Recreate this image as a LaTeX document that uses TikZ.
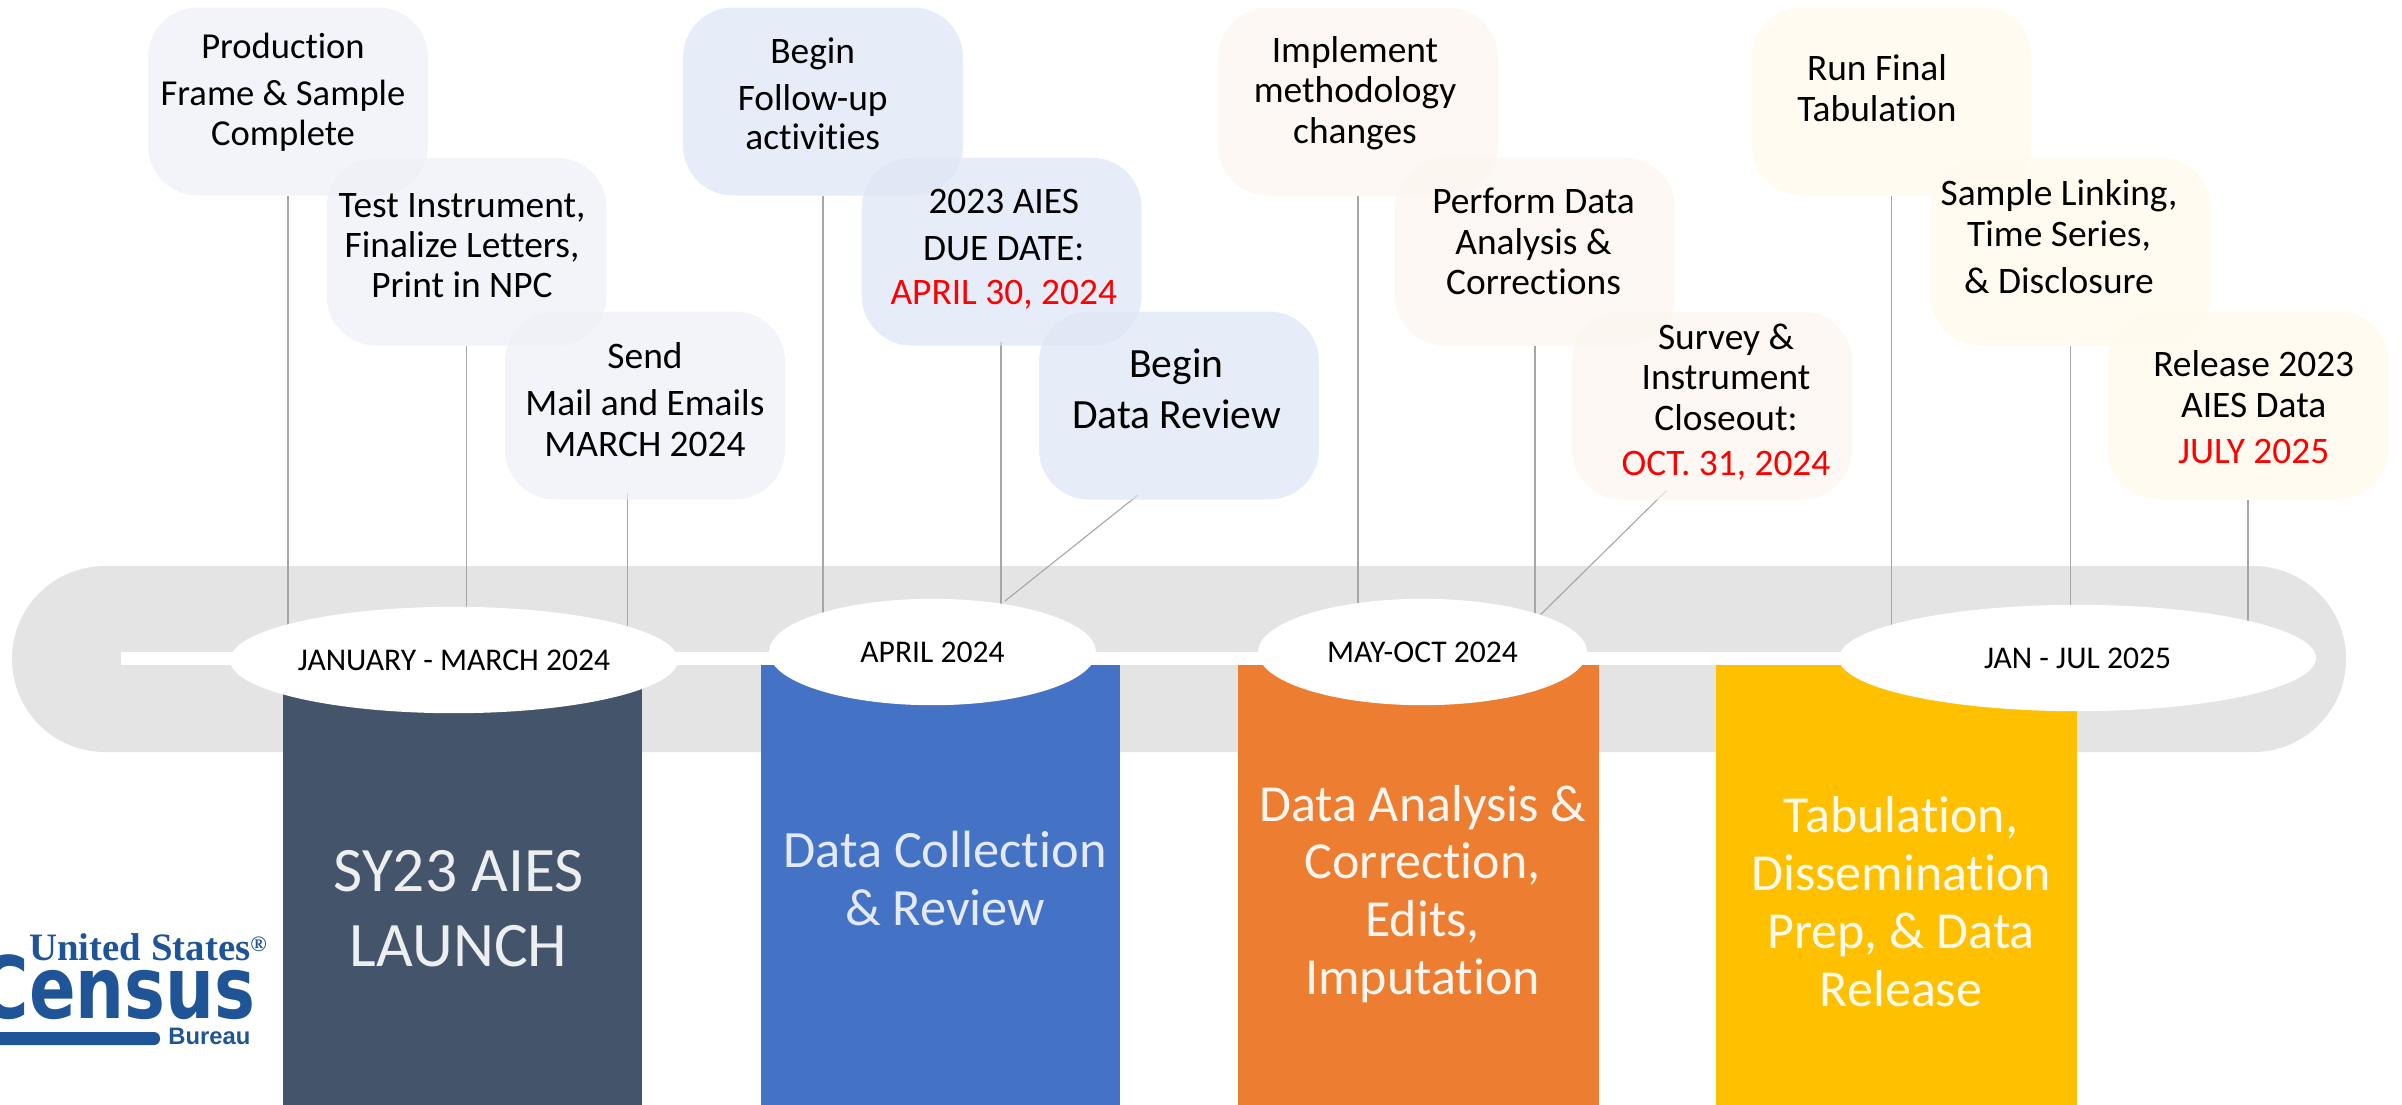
\documentclass[tikz,border=0pt]{standalone}
\usepackage{fontspec}
\usetikzlibrary{shapes.geometric}
\setmainfont{Carlito}[Ligatures=CommonOff]
\newfontfamily\lserif{Liberation Serif}
\newfontfamily\lsans{Liberation Sans}
\newfontfamily\dsans{DejaVu Sans}
\definecolor{bandgrey}{HTML}{E4E4E4}
\definecolor{linkgrey}{HTML}{A6A6A6}
\definecolor{slatec}{HTML}{44546A}
\definecolor{bluec}{HTML}{4472C4}
\definecolor{orangec}{HTML}{ED7D31}
\definecolor{yellowc}{HTML}{FFC000}
\definecolor{logoc}{HTML}{1F5597}
\definecolor{bslate}{RGB}{238,240,246}
\definecolor{bblue}{RGB}{221,230,245}
\definecolor{borange}{RGB}{252,245,238}
\definecolor{byellow}{RGB}{255,250,235}
\pgfdeclarelayer{back}
\pgfdeclarelayer{mid}
\pgfsetlayers{back,mid,main}
\tikzset{
  bubble/.style={draw=none,fill=#1,fill opacity=.7,rounded corners=25pt,minimum width=140pt,minimum height=94pt,inner sep=0pt},
  bubbletxt/.style={align=center,anchor=base,inner sep=0pt,font=\fontsize{18.7}{20}\selectfont,text=black},
  bigtxt/.style={align=center,anchor=base,inner sep=0pt,font=\fontsize{20.8}{20}\selectfont,text=black},
  column/.style={draw=none,fill=#1,minimum height=220pt,inner sep=0pt,anchor=north},
  coltxt/.style={align=center,anchor=base,inner sep=0pt,text=#1},
  period/.style={ellipse,draw=none,fill=white,inner sep=0pt,minimum height=53.2pt,text height=10pt,text depth=0pt,font=\fontsize{15.8}{18}\selectfont,text=black},
  link/.style={draw=linkgrey,line width=.55pt},
}
\begin{document}
\begin{tikzpicture}[x=.5pt,y=-.5pt]
\useasboundingbox (0,0) rectangle (2402,1104);
% ---- band, axis, columns
\begin{pgfonlayer}{back}
\node[draw=none,fill=bandgrey,rounded corners=46.4pt,minimum width=1167pt,minimum height=93pt,inner sep=0pt] (band) at (1179,659) {};
\node[draw=none,fill=white,minimum width=870pt,minimum height=6.8pt,inner sep=0pt,anchor=west] (axis) at (121,658.5) {};
\node[column=slatec,minimum width=179.5pt] (r1) at (462.5,665) {};
\node[column=bluec,minimum width=179.5pt] (r2) at (940.5,665) {};
\node[column=orangec,minimum width=180.5pt] (r3) at (1418.5,665) {};
\node[column=yellowc,minimum width=180.5pt] (r4) at (1896.5,665) {};
\end{pgfonlayer}
% ---- period ellipses
\node[period,minimum width=224pt] (e1) at (454,660) {JANUARY - MARCH 2024};
\node[period,minimum width=163.5pt] (e2) at (932.5,652) {APRIL 2024};
\node[period,minimum width=164.5pt] (e3) at (1422.5,652) {MAY-OCT 2024};
\node[period,minimum width=238.5pt] (e4) at (2077.5,658) {JAN - JUL 2025};
% ---- bubbles
\node[bubble=bslate] (b1) at (288,101.5) {};
\node[bubble=bslate] (b2) at (466.6,251.7) {};
\node[bubble=bslate] (b3) at (645,405.5) {};
\node[bubble=bblue] (b4) at (823,101.5) {};
\node[bubble=bblue] (b5) at (1001.7,251.7) {};
\node[bubble=bblue] (b6) at (1179,405.5) {};
\node[bubble=borange] (b7) at (1358,101.5) {};
\node[bubble=borange] (b8) at (1535,251.7) {};
\node[bubble=borange] (b9) at (1712,405.5) {};
\node[bubble=byellow] (b10) at (1891.6,101.5) {};
\node[bubble=byellow] (b11) at (2070.8,251.7) {};
\node[bubble=byellow] (b12) at (2248,405.5) {};
% ---- connectors
\coordinate (c3) at (627.5,493);
\coordinate (c5) at (1001,342);
\coordinate (c6a) at (1138,495);
\coordinate (c6b) at (1005,601);
\coordinate (c9a) at (1666.5,490.5);
\coordinate (c9b) at (1540.6,614.6);
\begin{pgfonlayer}{mid}
\draw[link] (b1.south) -- (b1.south |- e1.center);
\draw[link] (b2.south) -- (b2.south |- e1.center);
\draw[link] (c3) -- (c3 |- e1.center);
\draw[link] (b4.south) -- (b4.south |- e2.center);
\draw[link] (c5) -- (c5 |- e2.center);
\draw[link] (c6a) -- (c6b);
\draw[link] (b7.south) -- (b7.south |- e3.center);
\draw[link] (b8.south) -- (b8.south |- e3.center);
\draw[link] (c9a) -- (c9b);
\draw[link] (b10.south) -- (b10.south |- e4.center);
\draw[link] (b11.south) -- (b11.south |- e4.center);
\draw[link] (b12.south) -- (b12.south |- e4.center);
\end{pgfonlayer}
% ---- bubble texts
\node[bubbletxt,font=\fontsize{18.3}{20}\selectfont] (t1) at (283,145.5) {Production\\[3.5pt]Frame \& Sample\\[.25pt]Complete};
\node[bubbletxt] (t2) at (462,297) {Test Instrument,\\Finalize Letters,\\Print in NPC};
\node[bubbletxt] (t3) at (645,456.5) {Send\\[3.5pt]Mail and Emails\\[.3pt]MARCH 2024};
\node[bubbletxt] (t4) at (812.7,149.5) {Begin\\[3.25pt]Follow-up\\[-.25pt]activities};
\node[bubbletxt] (t5) at (1003.7,304.4) {2023 AIES\\[3.5pt]DUE DATE:\\[1.8pt]\textcolor{red}{APRIL 30, 2024}};
\node[bigtxt] (t6) at (1176.5,428.5) {Begin\\[5.75pt]Data Review};
\node[bubbletxt] (t7) at (1355,143) {Implement\\[.4pt]methodology\\[.1pt]changes};
\node[bubbletxt] (t8) at (1533.5,294.7) {Perform Data\\[.1pt]Analysis \&\\[.35pt]Corrections};
\node[bubbletxt] (t9) at (1726,475) {Survey \&\\[.35pt]Instrument\\[.15pt]Closeout:\\[2.5pt]\textcolor{red}{OCT. 31, 2024}};
\node[bubbletxt] (t10) at (1877,121) {Run Final\\[.25pt]Tabulation};
\node[bubbletxt] (t11) at (2059,293) {Sample Linking,\\[.25pt]Time Series,\\[3.5pt]\& Disclosure};
\node[bubbletxt] (t12) at (2253.7,463) {Release 2023\\[.5pt]AIES Data\\[3pt]\textcolor{red}{JULY 2025}};
% ---- column texts
\node[coltxt={white!90!slatec},font=\fontsize{31.7}{37.3}\selectfont] (l1) at (458.6,966.5) {SY23 AIES\\LAUNCH};
\node[coltxt={white!85!bluec},font=\fontsize{26.2}{29}\selectfont] (l2) at (945,925) {Data Collection\\\& Review};
\node[coltxt={white!92!orangec},font=\fontsize{26}{28.9}\selectfont] (l3) at (1422.6,994.5) {Data Analysis \&\\Correction,\\Edits,\\Imputation};
\node[coltxt={white!92!yellowc},font=\fontsize{26}{28.9}\selectfont] (l4) at (1901,1006) {Tabulation,\\Dissemination\\Prep, \& Data\\Release};
% ---- logo
\node[anchor=base west,inner sep=0pt,text=logoc,font=\lserif\bfseries\fontsize{19.4}{20}\selectfont] (logo1) at (29,960) {United States\raisebox{.5ex}{\fontsize{11}{12}\selectfont ®}};
\node[anchor=base east,inner sep=0pt,text=logoc,xscale=.8,transform shape,font=\dsans\bfseries\fontsize{43}{44}\selectfont] (logo2) at (256,1018) {Census};
\node[anchor=base west,inner sep=0pt,text=logoc,font=\lsans\bfseries\fontsize{11.9}{12}\selectfont] (logo3) at (168,1044) {Bureau};
\fill[logoc,rounded corners=3pt] (-20,1032) rectangle (160,1045);
\end{tikzpicture}
\end{document}
